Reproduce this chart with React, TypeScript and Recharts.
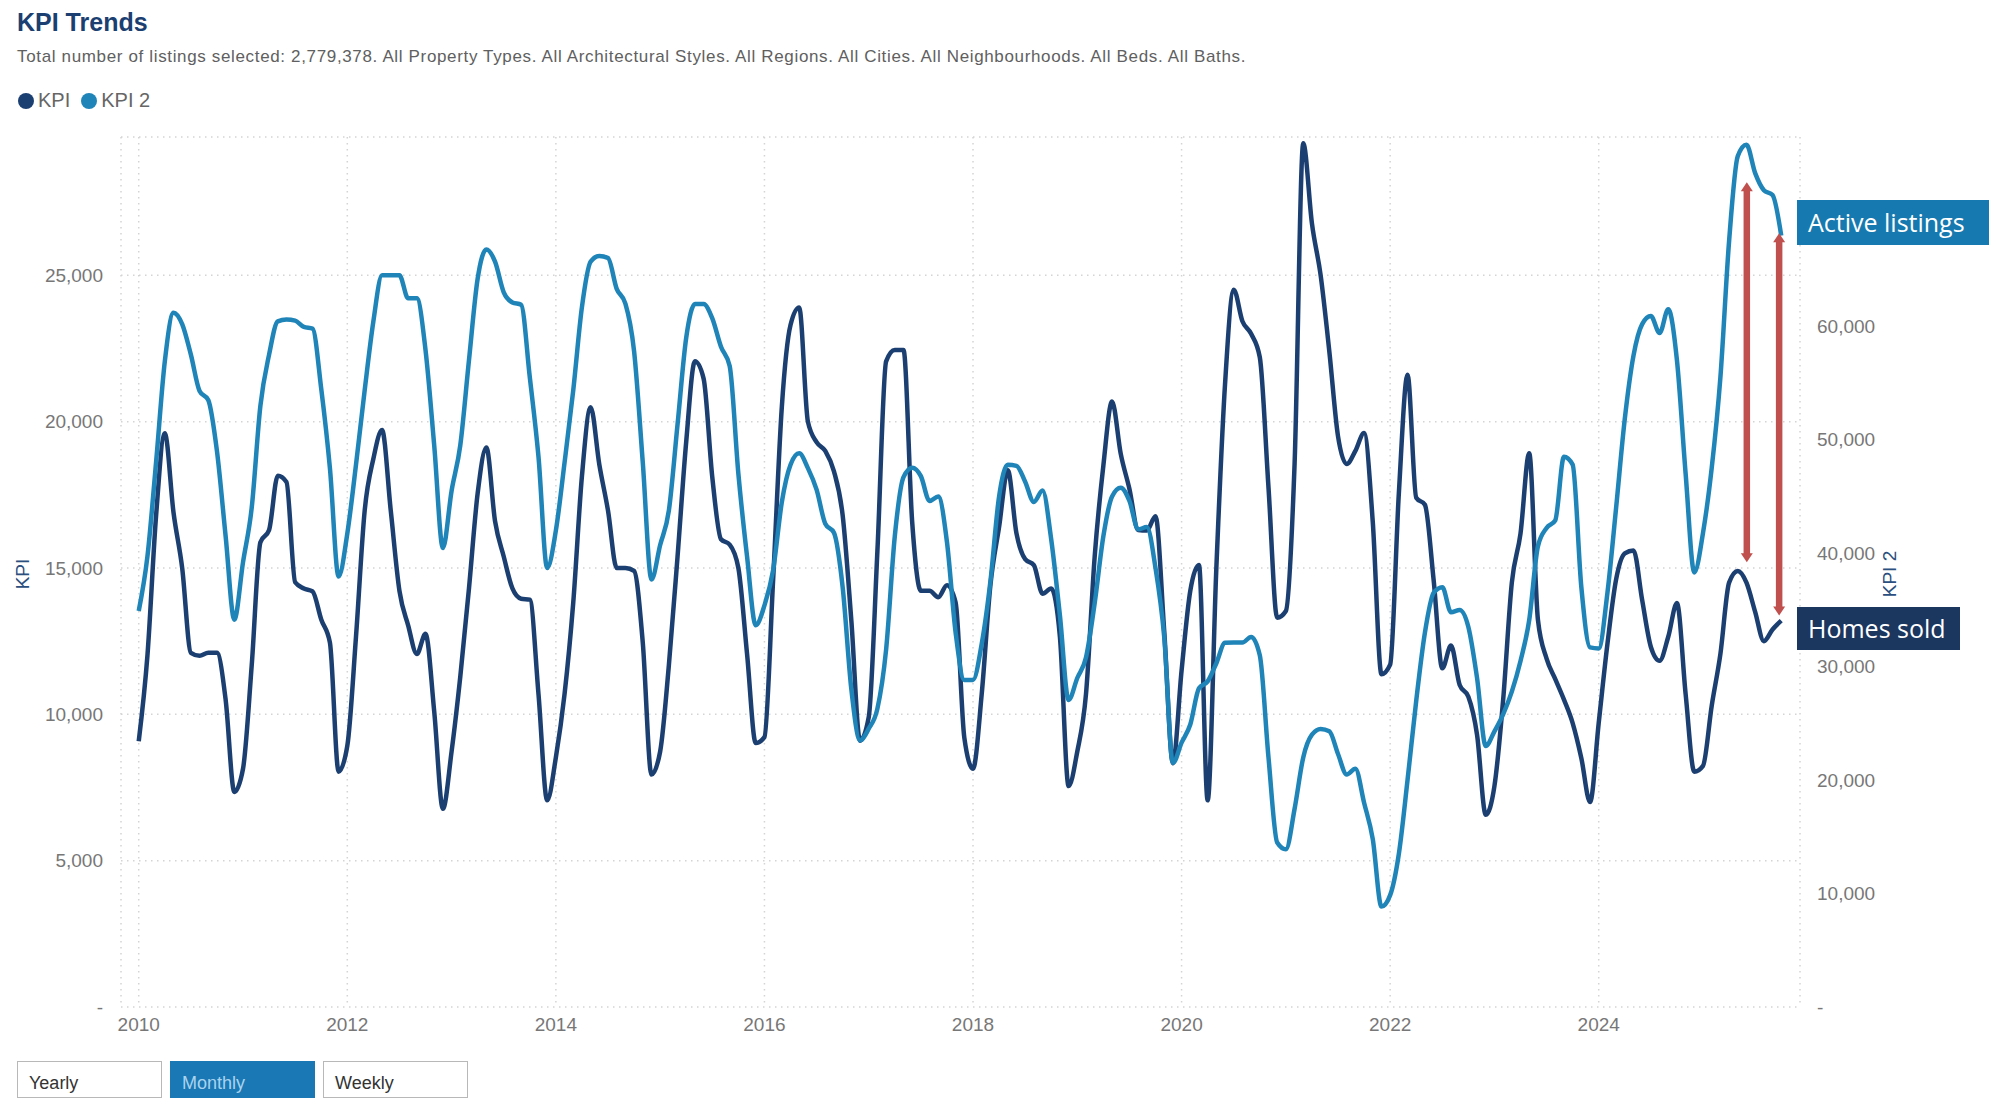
import React from "react";
import { LineChart, Line, XAxis, YAxis, CartesianGrid, ReferenceLine } from "recharts";

// monthly series, Jan 2010 .. Oct 2025
const START_YEAR = 2010;

const kpi = [
  9080, 12000, 16800, 19600, 16900, 15000, 12100, 12000, 12100, 12100, 10500, 7350,
  8140, 11670, 15880, 16300, 18150, 17940, 14510, 14300, 14200, 13240, 12450, 8040,
  8920, 12650, 16960, 18730, 19710, 16960, 14220, 13040, 12060, 12750, 10100, 6770,
  8730, 11280, 14300, 17550, 19120, 16600, 15390, 14300, 13950, 13920, 10690, 7060,
  8530, 10690, 13820, 18140, 20490, 18530, 16960, 15000, 15000, 14900, 12450, 7940,
  8730, 11670, 15390, 19320, 22060, 21470, 18100, 15980, 15800, 15000, 12060, 9020,
  9220, 14600, 20500, 23300, 23900, 20000, 19300, 19000, 18300, 16800, 13200, 9100,
  9900, 15590, 22060, 22450, 22450, 16570, 14220, 14220, 14000, 14410, 13820, 9200,
  8140, 10690, 14410, 16400, 18340, 16180, 15300, 15100, 14120, 14300, 12650, 7550,
  8730, 10690, 15390, 18500, 20690, 18900, 17700, 16300, 16280, 16770, 12850, 8330,
  11500, 14220, 15100, 7060, 15000, 21280, 24510, 23430, 23000, 22200, 17750, 13300,
  13530, 18530, 29510, 26770, 25000, 22400, 19500, 18550, 19000, 19610, 16570, 11370,
  11700, 17550, 21600, 17400, 17160, 14600, 11570, 12350, 11000, 10600, 9300, 6570,
  7550, 10490, 14500, 16180, 18920, 13240, 11900, 11200, 10500, 9700, 8500, 7000,
  9710, 12400, 14610, 15500, 15600, 13900, 12300, 11830, 12650, 13800, 10690, 8040,
  8240, 10290, 12060, 14500, 14900, 14500, 13500, 12500, 12900, 13200,
];

const kpi2 = [
  34900, 39700, 48050, 56900, 61200, 60190, 57500, 54300, 53500, 49000, 41500, 34140,
  39200, 44000, 53000, 57500, 60440, 60600, 60500, 59940, 59800, 54500, 47500, 37940,
  41730, 47800, 54370, 60440, 64490, 64490, 64490, 62470, 62470, 57910, 49500, 40460,
  45500, 49500, 57000, 64200, 66770, 65700, 63000, 62100, 61900, 55500, 48500, 38690,
  42000, 48000, 54370, 61700, 65700, 66200, 66010, 63300, 62000, 57800, 48000, 37680,
  40720, 43750, 51340, 59000, 61960, 61960, 60700, 58200, 56500, 47000, 39700, 33640,
  35400, 38500, 44500, 47800, 48800, 47500, 45600, 42600, 41800, 37000, 28000, 23500,
  24530, 26300, 31500, 41500, 46700, 47540, 46790, 44600, 45000, 41000, 33000, 28830,
  28830, 32000, 37500, 45000, 47800, 47700, 46300, 44510, 45520, 41200, 34500, 27060,
  29000, 30800, 35600, 41500, 45000, 45770, 44600, 42100, 42300, 38690, 32620, 21500,
  23300, 24900, 28100, 28700, 30300, 32100, 32120, 32120, 32620, 31000, 22000, 14500,
  13900, 17450, 22000, 24000, 24500, 24300, 22300, 20500, 21000, 18000, 14800, 8850,
  9860, 13500, 20000, 27000, 33000, 36500, 37000, 34800, 35000, 33500, 29000, 23000,
  24300, 25800, 27800, 30500, 34100, 40600, 42230, 42900, 48500, 47800, 37000, 31700,
  31610, 36500, 44000, 51840, 57410, 60190, 60900, 59400, 61500, 57000, 47000, 38300,
  41800, 47500, 55500, 67500, 75000, 76000, 73500, 72000, 71570, 68000,
];

const xTicks = [2010, 2012, 2014, 2016, 2018, 2020, 2022, 2024];
const leftTicks = [0, 5000, 10000, 15000, 20000, 25000];
const rightTicks = [0, 10000, 20000, 30000, 40000, 50000, 60000];

// gap annotations (right axis values)
const arrows = [
  { x: 2025.42, from: 72700, to: 39200 },
  { x: 2025.73, from: 68200, to: 34500 },
];

const NAVY = "#1c3f72";
const BLUE = "#1f84b8";
const RED = "#c0504d";
const FONT = "'Liberation Sans', Arial, sans-serif";

const data = kpi.map((v, i) => ({ t: START_YEAR + i / 12, kpi: v, kpi2: kpi2[i] }));

const fmt = (v: number) => (v === 0 ? "-" : v.toLocaleString("en-US"));

function Arrow(props: any) {
  const { x1, y1, y2 } = props;
  const top = Math.min(y1, y2);
  const bot = Math.max(y1, y2);
  const head = 9;
  const hw = 6;
  return (
    <g>
      <line x1={x1} y1={top + head - 1} x2={x1} y2={bot - head + 1} stroke={RED} strokeWidth={6.5} />
      <polygon points={`${x1},${top} ${x1 - hw},${top + head} ${x1 + hw},${top + head}`} fill={RED} />
      <polygon points={`${x1},${bot} ${x1 - hw},${bot - head} ${x1 + hw},${bot - head}`} fill={RED} />
    </g>
  );
}

const tickStyle = { fill: "#777", fontSize: 19, fontFamily: FONT };

function Button({ left, label, active }: { left: number; label: string; active?: boolean }) {
  return (
    <div
      style={{
        position: "absolute",
        left,
        top: 1061,
        width: 145,
        height: 37,
        boxSizing: "border-box",
        border: `1px solid ${active ? "#1a78b4" : "#b8b8b8"}`,
        background: active ? "#1a78b4" : "#fff",
        color: active ? "#a9d3ef" : "#333",
        fontSize: 18,
        lineHeight: "20px",
        paddingLeft: 11,
        paddingTop: 11,
      }}
    >
      {label}
    </div>
  );
}

export default function App() {
  return (
    <div
      style={{
        position: "absolute",
        left: 0,
        top: 0,
        width: 1999,
        height: 1104,
        background: "#fff",
        overflow: "hidden",
        fontFamily: FONT,
      }}
    >
      <div style={{ position: "absolute", left: 17, top: 8, fontSize: 25, fontWeight: 700, color: NAVY }}>
        KPI Trends
      </div>
      <div
        style={{
          position: "absolute",
          left: 17,
          top: 47,
          fontSize: 17,
          letterSpacing: 0.65,
          color: "#606060",
          whiteSpace: "nowrap",
        }}
      >
        Total number of listings selected: 2,779,378. All Property Types. All Architectural Styles. All Regions. All
        Cities. All Neighbourhoods. All Beds. All Baths.
      </div>
      <div
        style={{
          position: "absolute",
          left: 18,
          top: 89,
          display: "flex",
          alignItems: "center",
          fontSize: 20,
          color: "#666",
        }}
      >
        <span style={{ width: 16, height: 16, borderRadius: 8, background: NAVY, display: "inline-block", marginRight: 4 }} />
        <span>KPI</span>
        <span style={{ width: 16, height: 16, borderRadius: 8, background: BLUE, display: "inline-block", marginLeft: 11, marginRight: 4 }} />
        <span>KPI 2</span>
      </div>

      <div style={{ position: "absolute", left: 0, top: 0 }}>
        <LineChart width={1999} height={1104} data={data} margin={{ top: 137, right: 99, bottom: 57, left: 41 }}>
          <CartesianGrid yAxisId="left" stroke="#d4d4d4" strokeDasharray="1.5 4.5" strokeWidth={1.5} />
          <XAxis
            dataKey="t"
            type="number"
            domain={[2009.83, 2025.93]}
            ticks={xTicks}
            interval={0}
            axisLine={false}
            tickLine={false}
            tickSize={6}
            tickMargin={5}
            height={40}
            tick={tickStyle}
            allowDataOverflow
          />
          <YAxis
            yAxisId="left"
            domain={[0, 29725]}
            ticks={leftTicks}
            interval={0}
            tickFormatter={fmt}
            axisLine={false}
            tickLine={false}
            tickSize={6}
            tickMargin={12}
            width={80}
            tick={tickStyle}
            allowDataOverflow
          />
          <YAxis
            yAxisId="right"
            orientation="right"
            domain={[0, 76685]}
            ticks={rightTicks}
            interval={0}
            tickFormatter={fmt}
            axisLine={false}
            tickLine={false}
            tickSize={6}
            tickMargin={11}
            width={100}
            tick={tickStyle}
            allowDataOverflow
          />
          <Line
            yAxisId="left"
            type="monotone"
            dataKey="kpi"
            stroke={NAVY}
            strokeWidth={4.5}
            dot={false}
            activeDot={false}
            isAnimationActive={false}
          />
          <Line
            yAxisId="right"
            type="monotone"
            dataKey="kpi2"
            stroke={BLUE}
            strokeWidth={4.5}
            dot={false}
            activeDot={false}
            isAnimationActive={false}
          />
          {arrows.map((a, i) => (
            <ReferenceLine
              key={i}
              yAxisId="right"
              segment={[{ x: a.x, y: a.from }, { x: a.x, y: a.to }]}
              shape={Arrow}
              ifOverflow="visible"
            />
          ))}
        </LineChart>
      </div>

      <div
        style={{
          position: "absolute",
          left: 23,
          top: 574,
          transform: "translate(-50%, -50%) rotate(-90deg)",
          fontSize: 19,
          color: "#2b4f7e",
        }}
      >
        KPI
      </div>
      <div
        style={{
          position: "absolute",
          left: 1890,
          top: 574,
          transform: "translate(-50%, -50%) rotate(-90deg)",
          fontSize: 19,
          color: "#2b4f7e",
          whiteSpace: "nowrap",
        }}
      >
        KPI 2
      </div>

      <div
        style={{
          position: "absolute",
          left: 1797,
          top: 200,
          width: 192,
          height: 45,
          background: "#1679b0",
          color: "#fff",
          fontFamily: "'Open Sans', sans-serif",
          fontSize: 25,
          lineHeight: "45px",
          paddingLeft: 11,
          boxSizing: "border-box",
          whiteSpace: "nowrap",
        }}
      >
        Active listings
      </div>
      <div
        style={{
          position: "absolute",
          left: 1797,
          top: 607,
          width: 163,
          height: 43,
          background: "#1b365f",
          color: "#fff",
          fontFamily: "'Open Sans', sans-serif",
          fontSize: 25,
          lineHeight: "43px",
          paddingLeft: 11,
          boxSizing: "border-box",
          whiteSpace: "nowrap",
        }}
      >
        Homes sold
      </div>

      <Button left={17} label="Yearly" />
      <Button left={170} label="Monthly" active />
      <Button left={323} label="Weekly" />
    </div>
  );
}
